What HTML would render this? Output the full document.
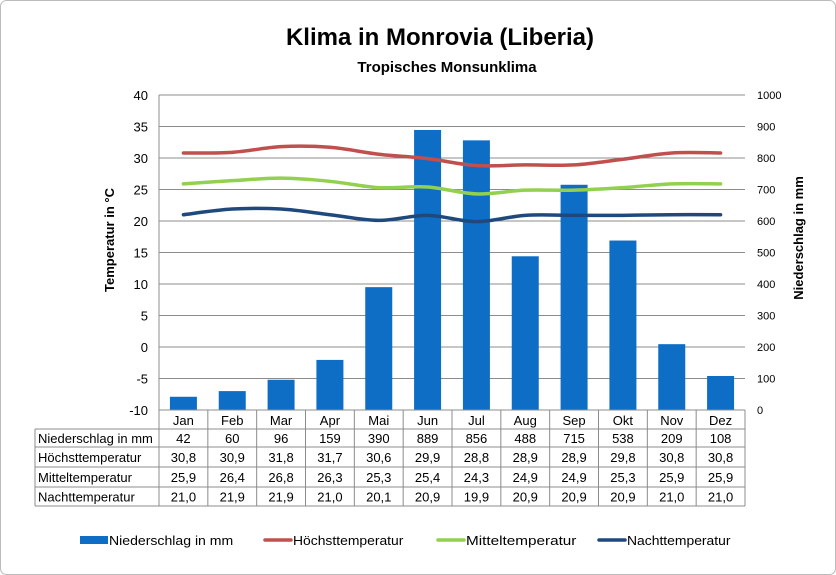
<!DOCTYPE html>
<html><head><meta charset="utf-8"><style>
body{margin:0;background:#fff;}
svg{display:block;font-family:"Liberation Sans",Arial,sans-serif;}
</style></head><body>
<svg width="836" height="575" viewBox="0 0 836 575">
<rect x="0.5" y="0.5" width="835" height="574" rx="6" fill="#fff" stroke="#bbb"/>
<text x="440" y="45" text-anchor="middle" font-size="24" font-weight="bold">Klima in Monrovia (Liberia)</text>
<text x="447" y="72" text-anchor="middle" font-size="15" font-weight="bold">Tropisches Monsunklima</text>
<text transform="translate(114,240) rotate(-90)" text-anchor="middle" font-size="13" font-weight="bold">Temperatur in °C</text>
<text transform="translate(803,238) rotate(-90)" text-anchor="middle" font-size="13" font-weight="bold">Niederschlag in mm</text>
<g id="grid"></g><g id="bars"></g><g id="lines"></g><g id="table"></g><g id="legend"></g>
</svg>
<script>
const months=["Jan","Feb","Mar","Apr","Mai","Jun","Jul","Aug","Sep","Okt","Nov","Dez"];
const rain=[42,60,96,159,390,889,856,488,715,538,209,108];
const tmax=[30.8,30.9,31.8,31.7,30.6,29.9,28.8,28.9,28.9,29.8,30.8,30.8];
const tmean=[25.9,26.4,26.8,26.3,25.3,25.4,24.3,24.9,24.9,25.3,25.9,25.9];
const tmin=[21.0,21.9,21.9,21.0,20.1,20.9,19.9,20.9,20.9,20.9,21.0,21.0];
const leftTicks=[-10,-5,0,5,10,15,20,25,30,35,40];
const rightTicks=[0,100,200,300,400,500,600,700,800,900,1000];
const rowNames=["Niederschlag in mm","Höchsttemperatur","Mitteltemperatur","Nachttemperatur"];
const NS="http://www.w3.org/2000/svg";
const X0=159,X1=745,Y0=95,Y1=410;
const cw=(X1-X0)/months.length;
const xc=i=>X0+cw*(i+0.5);
const yT=v=>Y1-(v+10)/50*(Y1-Y0);
const yR=v=>Y1-v/1000*(Y1-Y0);
function mk(tag,attrs,parent,txt){const e=document.createElementNS(NS,tag);for(const k in attrs)e.setAttribute(k,attrs[k]);if(txt!==undefined)e.textContent=txt;parent.appendChild(e);return e;}
const grid=document.getElementById('grid');
leftTicks.forEach(t=>{
  const l=mk('line',{x1:X0,x2:X1,y1:yT(t),y2:yT(t),stroke:'#8c8c8c','stroke-width':1},grid);
  
  
  const tx=mk('text',{x:148,y:yT(t)+5,'text-anchor':'end','font-size':13},grid,t);
  
  
});
rightTicks.forEach(t=>{
  const tx=mk('text',{x:757,y:yR(t)+4,'font-size':11},grid,t);
  
  
});
const ax=mk('line',{x1:X0,x2:X0,y1:Y0,y2:Y1,stroke:'#8c8c8c'},grid);


const bars=document.getElementById('bars');
rain.forEach((v,i)=>{
  const r=mk('rect',{x:xc(i)-13.5,y:yR(v),width:27,height:Y1-yR(v),fill:'#0E6EC5'},bars);
  
  
});
function smooth(pts){let d=`M${pts[0][0]},${pts[0][1]}`;for(let i=0;i<pts.length-1;i++){const p0=pts[i-1]||pts[i],p1=pts[i],p2=pts[i+1],p3=pts[i+2]||p2;const c1=[p1[0]+(p2[0]-p0[0])/6,p1[1]+(p2[1]-p0[1])/6],c2=[p2[0]-(p3[0]-p1[0])/6,p2[1]-(p3[1]-p1[1])/6];d+=` C${c1[0]},${c1[1]} ${c2[0]},${c2[1]} ${p2[0]},${p2[1]}`;}return d;}
const lines=document.getElementById('lines');
[[tmax,'#C0504D','line-hoechsttemperatur'],[tmean,'#92D050','line-mitteltemperatur'],[tmin,'#1F497D','line-nachttemperatur']].forEach(([s,c,n])=>{
  const p=mk('path',{d:smooth(s.map((v,i)=>[xc(i),yT(v)])),fill:'none',stroke:c,'stroke-width':3.5,'stroke-linecap':'round'},lines);
  
  
});
const tb=document.getElementById('table');
const TL=35,rowsY=[410,429,447,467,487,506];
mk('line',{x1:X0,x2:X1,y1:410,y2:410,stroke:'#8c8c8c'},tb);
for(let r=1;r<rowsY.length;r++){mk('line',{x1:TL,x2:X1,y1:rowsY[r],y2:rowsY[r],stroke:'#8c8c8c'},tb);}
mk('line',{x1:TL,x2:TL,y1:429,y2:506,stroke:'#8c8c8c'},tb);
for(let i=0;i<=months.length;i++){mk('line',{x1:X0+cw*i,x2:X0+cw*i,y1:410,y2:506,stroke:'#8c8c8c'},tb);}
months.forEach((m,i)=>{
  const t=mk('text',{x:xc(i),y:425,'text-anchor':'middle','font-size':13},tb,m);
  
  
});
const fmt=v=>v.toFixed(1).replace('.',',');
const rowsData=[rain.map(String),tmax.map(fmt),tmean.map(fmt),tmin.map(fmt)];
rowNames.forEach((n,r)=>{
  const yy=(rowsY[r+1]+rowsY[r+2])/2+5;
  const t=mk('text',{x:38,y:yy,'font-size':13},tb,n);
  
  
  rowsData[r].forEach((v,i)=>{
    const c=mk('text',{x:xc(i),y:yy,'text-anchor':'middle','font-size':13},tb,v);
    
    
  });
});
const lg=document.getElementById('legend');
const leg=[["Niederschlag in mm",'#0E6EC5',80,true],["Höchsttemperatur",'#C0504D',264,false],["Mitteltemperatur",'#92D050',437,false],["Nachttemperatur",'#1F497D',598,false]];
leg.forEach(([n,c,x,isBar])=>{
  const g=mk('g',{},lg);
  
  
  if(isBar)mk('rect',{x:x,y:536,width:28,height:8,fill:c},g);
  else mk('line',{x1:x+1,x2:x+27,y1:540,y2:540,stroke:c,'stroke-width':3.5,'stroke-linecap':'round'},g);
  mk('text',{x:x+29,y:545,'font-size':13,textLength:n.length*6.9,lengthAdjust:'spacingAndGlyphs'},g,n);
});
</script>
</body></html>
